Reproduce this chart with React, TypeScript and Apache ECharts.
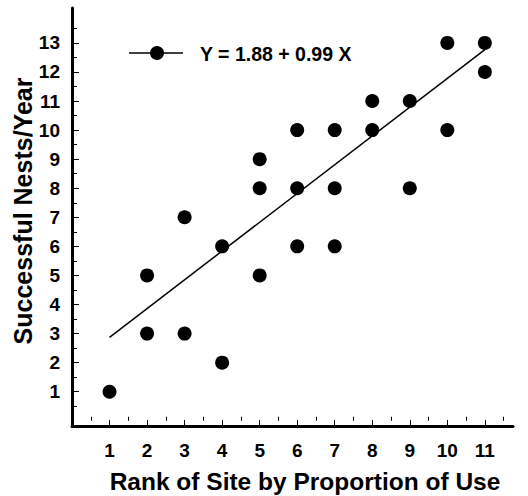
import React, { useEffect, useRef } from "react";
import * as echarts from "echarts";

// Site rank (x) and successful nests per year (y)
const siteRank = [1, 2, 2, 3, 3, 4, 4, 5, 5, 5, 6, 6, 6, 7, 7, 7, 8, 8, 9, 9, 10, 10, 11, 11];
const nestsPerYear = [1, 5, 3, 7, 3, 6, 2, 9, 8, 5, 10, 8, 6, 10, 8, 6, 11, 10, 11, 8, 13, 10, 13, 12];

// Fitted regression: Y = a + b X
const intercept = 1.88;
const slope = 0.99;
const fitRange = [1, 11];

const xTickValues = [1, 2, 3, 4, 5, 6, 7, 8, 9, 10, 11];
const yTickValues = [1, 2, 3, 4, 5, 6, 7, 8, 9, 10, 11, 12, 13];
const xMinorValues = [0.5, 1.5, 2.5, 3.5, 4.5, 5.5, 6.5, 7.5, 8.5, 9.5, 10.5, 11.5];
const yMinorValues = [0.5, 1.5, 2.5, 3.5, 4.5, 5.5, 6.5, 7.5, 8.5, 9.5, 10.5, 11.5, 12.5, 13.5];

const xTitle = "Rank of Site by Proportion of Use";
const yTitle = "Successful Nests/Year";
const legendText = "Y = 1.88 + 0.99 X";

const FONT = "'Liberation Sans', Arial, sans-serif";

export default function App() {
  const ref = useRef<HTMLDivElement>(null);

  useEffect(() => {
    if (!ref.current) return;
    const chart = echarts.init(ref.current, undefined, { renderer: "svg" });

    const points = siteRank.map((x, i) => [x, nestsPerYear[i]]);
    const fitLine = fitRange.map((x) => [x, intercept + slope * x]);

    const xMin = 0;
    const xMax = 11.75;
    const yMin = -0.18;
    const yMax = 14.2;

    const tickLabel = {
      fontFamily: FONT,
      fontWeight: "bold" as const,
      fontSize: 19,
      color: "#000",
    };

    chart.setOption({
      animation: false,
      backgroundColor: "#fff",
      grid: { left: 72, right: 15, top: 8, bottom: 70 },
      xAxis: [
        {
          type: "value",
          min: xMin,
          max: xMax,
          splitLine: { show: false },
          axisLine: { show: true, onZero: false, lineStyle: { color: "#000", width: 3 } },
          axisTick: { show: true, inside: true, length: 6, customValues: xTickValues, lineStyle: { color: "#000", width: 1 } },
          axisLabel: { ...tickLabel, margin: 15, customValues: xTickValues },
        },
        {
          type: "value",
          min: xMin,
          max: xMax,
          position: "bottom",
          splitLine: { show: false },
          axisLine: { show: false },
          axisTick: { show: true, inside: true, length: 4, customValues: xMinorValues, lineStyle: { color: "#000", width: 1 } },
          axisLabel: { show: false },
        },
      ],
      yAxis: [
        {
          type: "value",
          min: yMin,
          max: yMax,
          splitLine: { show: false },
          axisLine: { show: true, onZero: false, lineStyle: { color: "#000", width: 3 } },
          axisTick: { show: true, inside: true, length: 7, customValues: yTickValues, lineStyle: { color: "#000", width: 1 } },
          axisLabel: { ...tickLabel, margin: 12, customValues: yTickValues },
        },
        {
          type: "value",
          min: yMin,
          max: yMax,
          position: "left",
          splitLine: { show: false },
          axisLine: { show: false },
          axisTick: { show: true, inside: true, length: 5, customValues: yMinorValues, lineStyle: { color: "#000", width: 1 } },
          axisLabel: { show: false },
        },
      ],
      series: [
        {
          type: "line",
          data: fitLine,
          xAxisIndex: 0,
          yAxisIndex: 0,
          showSymbol: false,
          symbol: "none",
          lineStyle: { color: "#000", width: 1.5 },
          silent: true,
        },
        {
          type: "scatter",
          data: points,
          xAxisIndex: 0,
          yAxisIndex: 0,
          symbol: "circle",
          symbolSize: 14,
          itemStyle: { color: "#000", opacity: 1 },
        },
      ],
      graphic: [
        {
          type: "line",
          shape: { x1: 129, y1: 53, x2: 183, y2: 53 },
          style: { stroke: "#000", lineWidth: 1.5 },
        },
        {
          type: "circle",
          shape: { cx: 157, cy: 53, r: 7 },
          style: { fill: "#000" },
        },
        {
          type: "text",
          x: 200,
          y: 54,
          style: {
            text: legendText,
            fontFamily: FONT,
            fontWeight: "bold",
            fontSize: 19.5,
            fill: "#000",
            verticalAlign: "middle",
            align: "left",
          },
        },
        {
          type: "text",
          x: 305,
          y: 481,
          style: {
            text: xTitle,
            fontFamily: FONT,
            fontWeight: "bold",
            fontSize: 24.5,
            fill: "#000",
            align: "center",
            verticalAlign: "middle",
          },
        },
        {
          type: "text",
          x: 23,
          y: 211,
          rotation: Math.PI / 2,
          style: {
            text: yTitle,
            fontFamily: FONT,
            fontWeight: "bold",
            fontSize: 25,
            fill: "#000",
            align: "center",
            verticalAlign: "middle",
          },
        },
      ],
    });

    return () => chart.dispose();
  }, []);

  return <div ref={ref} style={{ width: 528, height: 496, position: "absolute", left: 0, top: 0 }} />;
}
